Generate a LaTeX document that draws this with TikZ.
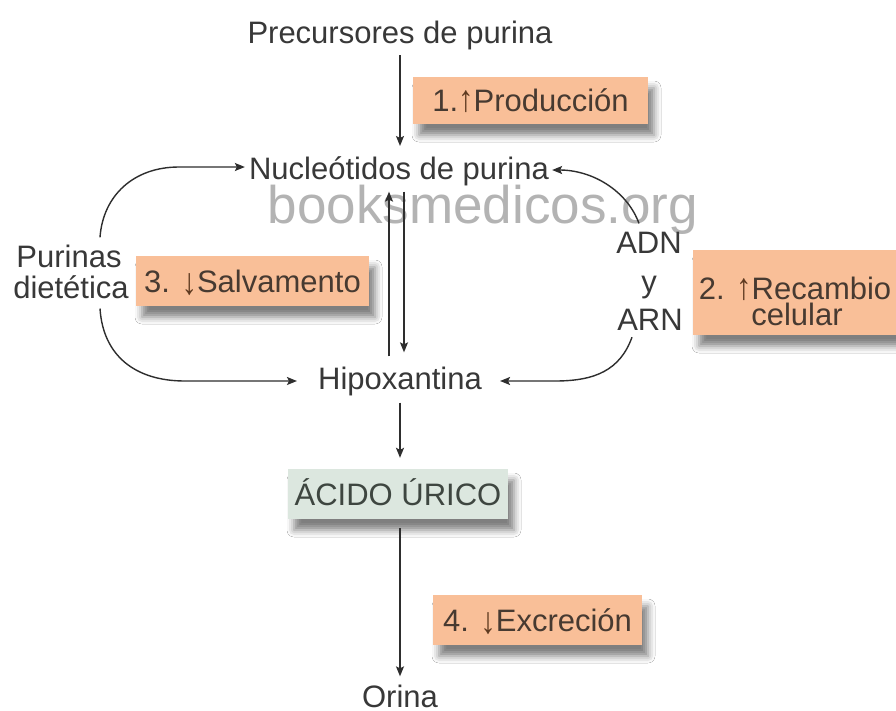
\documentclass[tikz,border=0pt]{standalone}
\usepackage{fontspec}
\setmainfont{Liberation Sans}
\usetikzlibrary{arrows.meta,shadows.blur}
\definecolor{txt}{HTML}{383838}
\definecolor{tagtxt}{HTML}{473A31}
\definecolor{arrbrown}{HTML}{5E3A20}
\definecolor{boxor}{HTML}{F9BF98}
\definecolor{boxgr}{HTML}{DCE7DF}
\definecolor{acidtxt}{HTML}{3E4640}
\definecolor{wm}{HTML}{B3B3B3}
\definecolor{arr}{HTML}{2E2E2E}
\begin{document}
\begin{tikzpicture}[x=1pt,y=-1pt,
  lbl/.style={font=\fontsize{31}{31}\selectfont, text=txt, inner sep=0pt, anchor=base},
  shad/.style={blur shadow={shadow xshift=6pt, shadow yshift=-11pt, shadow blur radius=7pt, shadow opacity=50}},
  tagbox/.style={shad, fill=boxor, text=tagtxt, font=\fontsize{31}{31}\selectfont, inner sep=0pt, text height=22pt, text depth=0pt},
  acidbox/.style={shad, fill=boxgr, text=acidtxt, font=\fontsize{31}{31}\selectfont, inner sep=0pt, text height=22pt, text depth=0pt},
  tagline/.style={font=\fontsize{31}{31}\selectfont, text=tagtxt, inner sep=0pt, anchor=base},
  conn/.style={draw=arr, line width=1.4pt, -{Stealth[length=10pt,width=8pt,inset=2pt]}}]
\newcommand{\uparr}{\textcolor{arrbrown}{\scalebox{1}[1.2]{↑}}}
\newcommand{\dnarr}{\textcolor{arrbrown}{\raisebox{-2pt}{\scalebox{1}[1.2]{↓}}}}
\useasboundingbox[fill=white] (0,0) rectangle (896,710);

% watermark
\node[font=\fontsize{53}{53}\selectfont, text=wm, inner sep=0pt, anchor=base] (wmk) at (483,223) {booksmedicos.org};

% main labels
\node[lbl] (prec) at (400,43) {Precursores de purina};
\node[lbl] (nuc) at (399,179) {Nucleótidos de purina};
\node[lbl] (hip) at (400,389) {Hipoxantina};
\node[lbl] (ori) at (400,707) {Orina};
\node[lbl] (pur1) at (69,267) {Purinas};
\node[lbl] (pur2) at (71,298) {dietética};
\node[lbl] (adn) at (649,253) {ADN};
\node[lbl] (yy) at (649,292) {y};
\node[lbl] (arn) at (650,330) {ARN};

% tag boxes
\node[tagbox, minimum width=235pt, minimum height=47pt] (b1) at (530.5,100.5) {1.\uparr Producción};
\node[tagbox, minimum width=233pt, minimum height=50pt] (b3) at (252.5,281) {3. \dnarr Salvamento};
\node[tagbox, minimum width=209pt, minimum height=50pt] (b4) at (537.5,620) {4. \dnarr Excreción};
\node[shad, fill=boxor, inner sep=0pt, minimum width=208pt, minimum height=85pt] (b2) at (797,292.5) {};
\node[tagline] (b2a) at (795,299) {2. \uparr Recambio};
\node[tagline] (b2b) at (797,325) {celular};

% acid box
\node[acidbox, minimum width=220pt, minimum height=50pt] (acid) at (398,494) {ÁCIDO ÚRICO};

% vertical connectors
\draw[conn, shorten <=5.5pt, shorten >=10pt] (prec.south) -- (prec.south |- nuc.north);
\draw[conn, shorten <=10pt, shorten >=6pt] ([xshift=-11pt]hip.north) -- ([xshift=-11pt]hip.north |- nuc.south);
\draw[conn, shorten <=6pt, shorten >=14pt] ([xshift=4pt]hip.north |- nuc.south) -- ([xshift=4pt]hip.north);
\draw[conn, shorten <=7pt, shorten >=11pt] (hip.south) -- (hip.south |- acid.north);
\draw[conn, shorten <=9pt, shorten >=8pt] (acid.south -| ori.north) -- (ori.north);

% left curves
\draw[conn, shorten >=4pt] ([xshift=31pt,yshift=7pt]pur1.north) .. controls +(3,-42) and +(-45,0) .. ([xshift=-70pt,yshift=12pt]nuc.base west) -- ([yshift=12pt]nuc.base west);
\draw[conn, shorten >=21pt] ([xshift=29pt,yshift=-10pt]pur2.south) .. controls +(3,47) and +(-50,0) .. ([xshift=-133pt,yshift=8pt]hip.base west) -- ([yshift=8pt]hip.base west);

% right curves
\draw[conn] ([xshift=-10pt,yshift=8pt]adn.north) .. controls +(-12,-33) and +(40,0) .. ([xshift=3pt,yshift=9pt]nuc.base east);
\draw[conn, shorten >=18pt] ([xshift=-18pt,yshift=-7pt]arn.south) .. controls +(-12,33) and +(40,0) .. ([xshift=73pt,yshift=8pt]hip.base east) -- ([yshift=8pt]hip.base east);
\end{tikzpicture}
\end{document}
